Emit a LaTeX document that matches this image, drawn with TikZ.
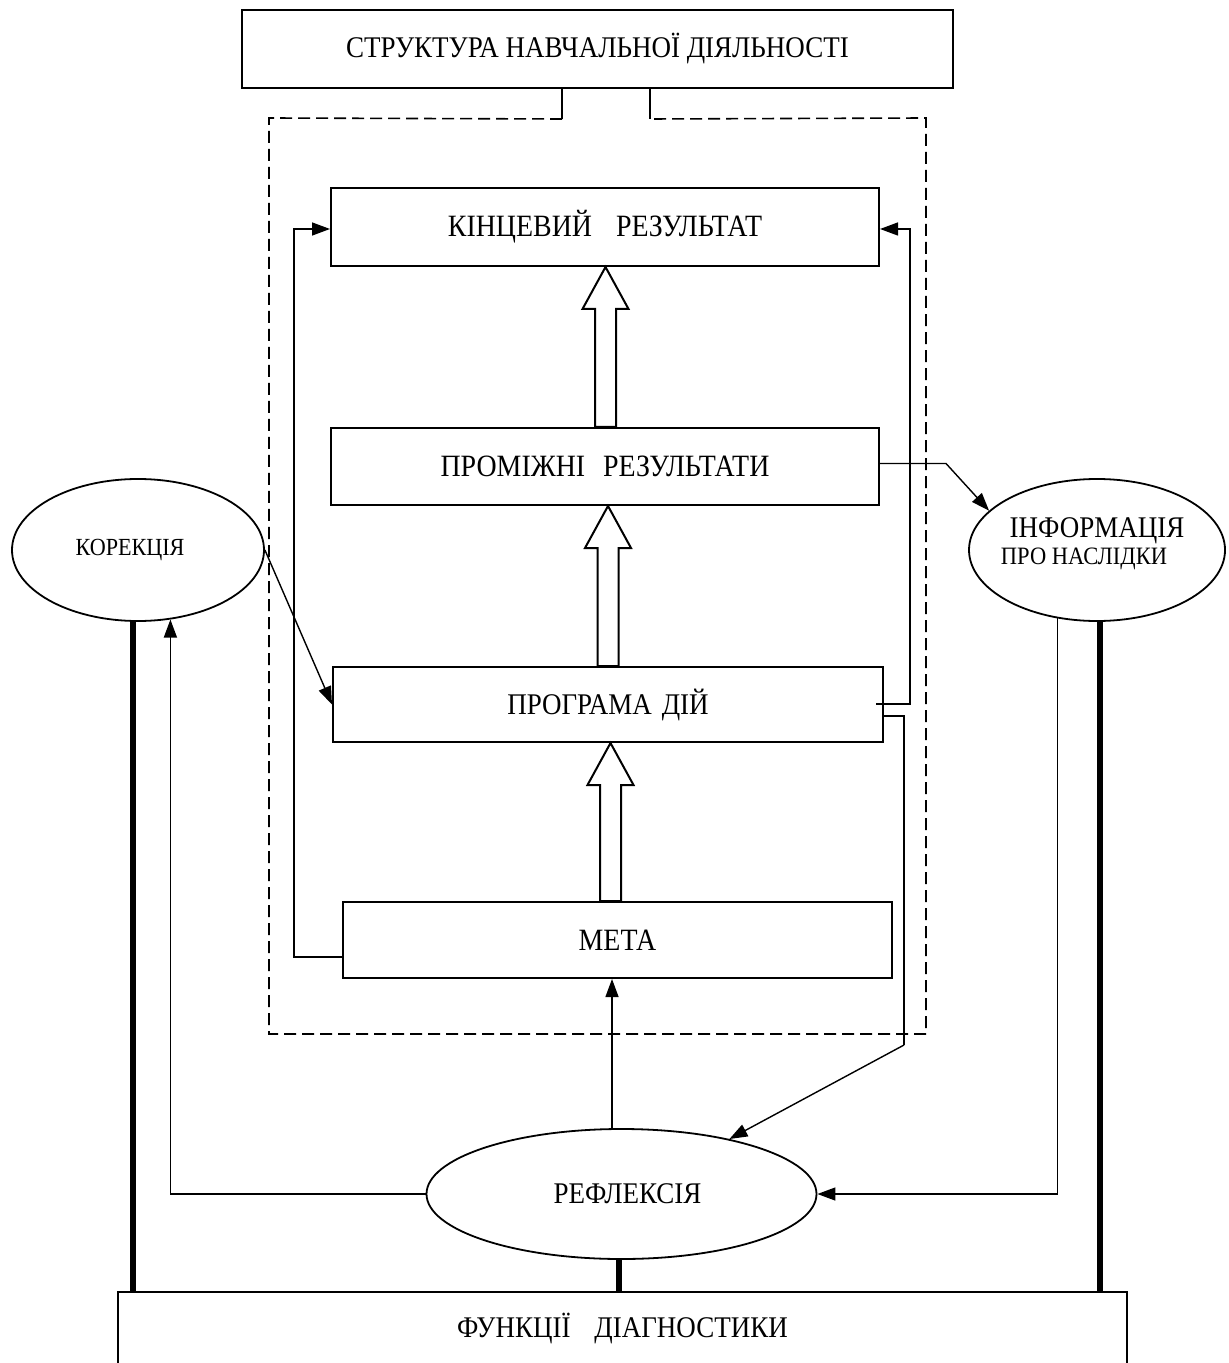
\documentclass[tikz,border=0pt]{standalone}
\usepackage{fontspec}
\setmainfont{Liberation Serif}[FakeStretch=0.9]
\usetikzlibrary{arrows.meta,shapes.geometric,calc}
\tikzset{
  box/.style={draw, line width=1pt, inner sep=0pt},
  oval/.style={draw, ellipse, line width=0.9pt, inner sep=0pt, align=center},
  conn/.style={line width=0.7pt},
  arr/.style={conn, -{Triangle[length=9pt,width=6.5pt]}},
  heavy/.style={line width=3pt},
  frame/.style={line width=0.8pt, dash pattern=on 6pt off 3pt},
  blockarr/.style={line width=1pt, fill=white},
}
\newcommand\hollowup[3]{%
  \draw[blockarr] let \p0=(#1,0), \p1=(#2.north), \p2=(#3.south) in
    ({\x0-5.25pt},\y1) -- ({\x0-5.25pt},{\y2-21pt}) -- ({\x0-11.5pt},{\y2-21pt})
    -- (\x0,\y2) -- ({\x0+11.5pt},{\y2-21pt}) -- ({\x0+5.25pt},{\y2-21pt})
    -- ({\x0+5.25pt},\y1) -- cycle;}
\begin{document}
\begin{tikzpicture}[x=0.5pt,y=-0.5pt]
\useasboundingbox (0,0) rectangle (1229,1363);
\clip (0,0) rectangle (1229,1363);

% boxes
\node[box, minimum width=355.5pt, minimum height=39pt, font=\fontsize{15}{18}\selectfont] (title) at (597.5,49) {СТРУКТУРА НАВЧАЛЬНОЇ ДІЯЛЬНОСТІ};
\node[box, minimum width=274pt, minimum height=39pt, font=\fontsize{15.5}{18}\selectfont] (kin) at (605,227) {КІНЦЕВИЙ\hspace{12pt}РЕЗУЛЬТАТ};
\node[box, minimum width=274pt, minimum height=38.5pt, font=\fontsize{15.5}{18}\selectfont] (prom) at (605,466.5) {ПРОМІЖНІ\hspace{9pt}РЕЗУЛЬТАТИ};
\node[box, minimum width=275pt, minimum height=37.5pt, font=\fontsize{15}{18}\selectfont] (prog) at (608,704.5) {ПРОГРАМА\hspace{5pt}ДІЙ};
\node[box, minimum width=274.5pt, minimum height=38pt, font=\fontsize{15.5}{18}\selectfont] (meta) at (617.5,940) {МЕТА};
\node[box, minimum width=504.5pt, minimum height=36pt, font=\fontsize{15}{18}\selectfont] (func) at (622.5,1328) {ФУНКЦІЇ\hspace{12pt}ДІАГНОСТИКИ};

% ellipses
\node[oval, minimum width=126pt, minimum height=71pt, font=\fontsize{12.3}{14}\selectfont] (kor) at (138,550) {КОРЕКЦІЯ\hspace*{8pt}};
\node[oval, minimum width=128pt, minimum height=71pt] (inf) at (1097,550) {\makebox[0pt]{\fontsize{15}{17}\selectfont ІНФОРМАЦІЯ}\\[1.5pt]\makebox[0pt]{\fontsize{12.5}{14}\selectfont ПРО НАСЛІДКИ\hspace*{13pt}}\rule[-9pt]{0pt}{1pt}};
\node[oval, minimum width=195pt, minimum height=65pt, font=\fontsize{15}{18}\selectfont] (ref) at (621.5,1194) {\hspace*{6pt}РЕФЛЕКСІЯ};

% dashed frame with solid links to the title
\draw[conn] ([xshift=-17.75pt]title.south) -- ++(0,30) coordinate (dl);
\draw[conn] ([xshift=26.25pt]title.south) -- ++(0,30) coordinate (dr);
\draw[frame] (dl) -- (269,118) -- (269,1034) -- (926,1034) -- (926,118) -- (dr);

% hollow block arrows
\hollowup{605.5}{prom}{kin}
\hollowup{608}{prog}{prom}
\hollowup{610.5}{meta}{prog}

% feedback lines inside
\draw[arr] ([yshift=-8.5pt]meta.west) -- ++(-48,0) |- ([yshift=-1pt]kin.west);
\draw[arr] ([xshift=-4pt,yshift=0.25pt]prog.east) -- ++(34,0) |- ([yshift=-1pt]kin.east);
\draw[conn] ([yshift=-5.75pt]prog.east) -- ++(20,0) -- ++(0,329) coordinate (dn);
\draw[arr] (dn) -- (ref.27);

% to/from ellipses
\draw[arr] ([yshift=1.5pt]prom.east) -- ++(66,0) -- (inf.160);
\draw[arr] (kor.east) -- (prog.west);
\draw[arr] (ref.west) -| (kor.-65);
\draw[arr] (inf.-120) |- (ref.east);
\draw[arr] ([xshift=-4.75pt]ref.north) -- ([xshift=-4.75pt]ref.north |- meta.south);

% heavy links to diagnostics
\draw[heavy] ([xshift=-2.5pt]kor.south) -- ([xshift=-2.5pt]kor.south |- func.north);
\draw[heavy] ([xshift=1.5pt]inf.south) -- ([xshift=1.5pt]inf.south |- func.north);
\draw[heavy] ([xshift=-1.25pt]ref.south) -- ([xshift=-1.25pt]ref.south |- func.north);
\end{tikzpicture}
\end{document}
